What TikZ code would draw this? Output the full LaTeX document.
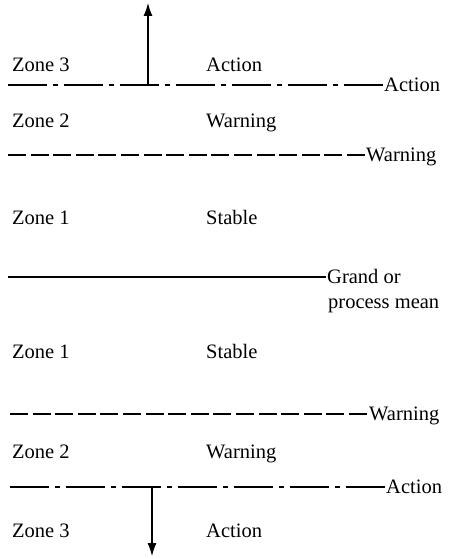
\documentclass[tikz,border=0pt]{standalone}
\usepackage{fontspec}
\setmainfont{Liberation Serif}
\usetikzlibrary{arrows.meta,positioning}
\tikzset{lbl/.style={anchor=base west,inner sep=0pt,font=\fontsize{20.5}{25}\selectfont},endl/.style={lbl,anchor=west,inner sep=1pt,text height=13pt,text depth=0pt},
act/.style={line width=1.2pt,dash pattern=on 39pt off 6pt on 5pt off 6pt},wrn/.style={line width=1.2pt,dash pattern=on 18pt off 4.6pt},mn/.style={line width=1.2pt},
arr/.style={-{Latex[length=13pt,width=9pt]},line width=1.1pt}}
\begin{document}
\begin{tikzpicture}[x=1pt,y=-1pt]
\useasboundingbox(0,0)rectangle(449,559);
\node[lbl](z3a)at(12,72){Zone 3};\node[lbl](t3a)at(206,72){Action};
\node[lbl](z2a)at(12,128){Zone 2};\node[lbl](t2a)at(206,128){Warning};
\node[lbl](z1a)at(12,224){Zone 1};\node[lbl](t1a)at(206,224){Stable};
\node[lbl](z1b)at(12,358){Zone 1};\node[lbl](t1b)at(206,358){Stable};
\node[lbl](z2b)at(12,458){Zone 2};\node[lbl](t2b)at(206,458){Warning};
\node[lbl](z3b)at(12,537){Zone 3};\node[lbl](t3b)at(206,537){Action};
\foreach\y/\x/\e/\s/\t/\n in{85/8/383/act/Action/la,155/8/365/wrn/Warning/lb,277/8/326/mn/Grand or/lc,414/10/368/wrn/Warning/ld,487/10/385/act/Action/le}
{\coordinate(\n0)at(\x,\y);\node[endl](\n)at(\e,\y){\t};\draw[\s](\n0)--(\n.west);}
\node[lbl](pm)at([xshift=2pt,yshift=-25pt]lc.base west){process mean};
\coordinate(up0)at(148,85);\coordinate(up1)at(148,3);\draw[arr](up0)--(up1);
\coordinate(dn0)at(152,487);\coordinate(dn1)at(152,556);\draw[arr](dn0)--(dn1);
\end{tikzpicture}
\end{document}
